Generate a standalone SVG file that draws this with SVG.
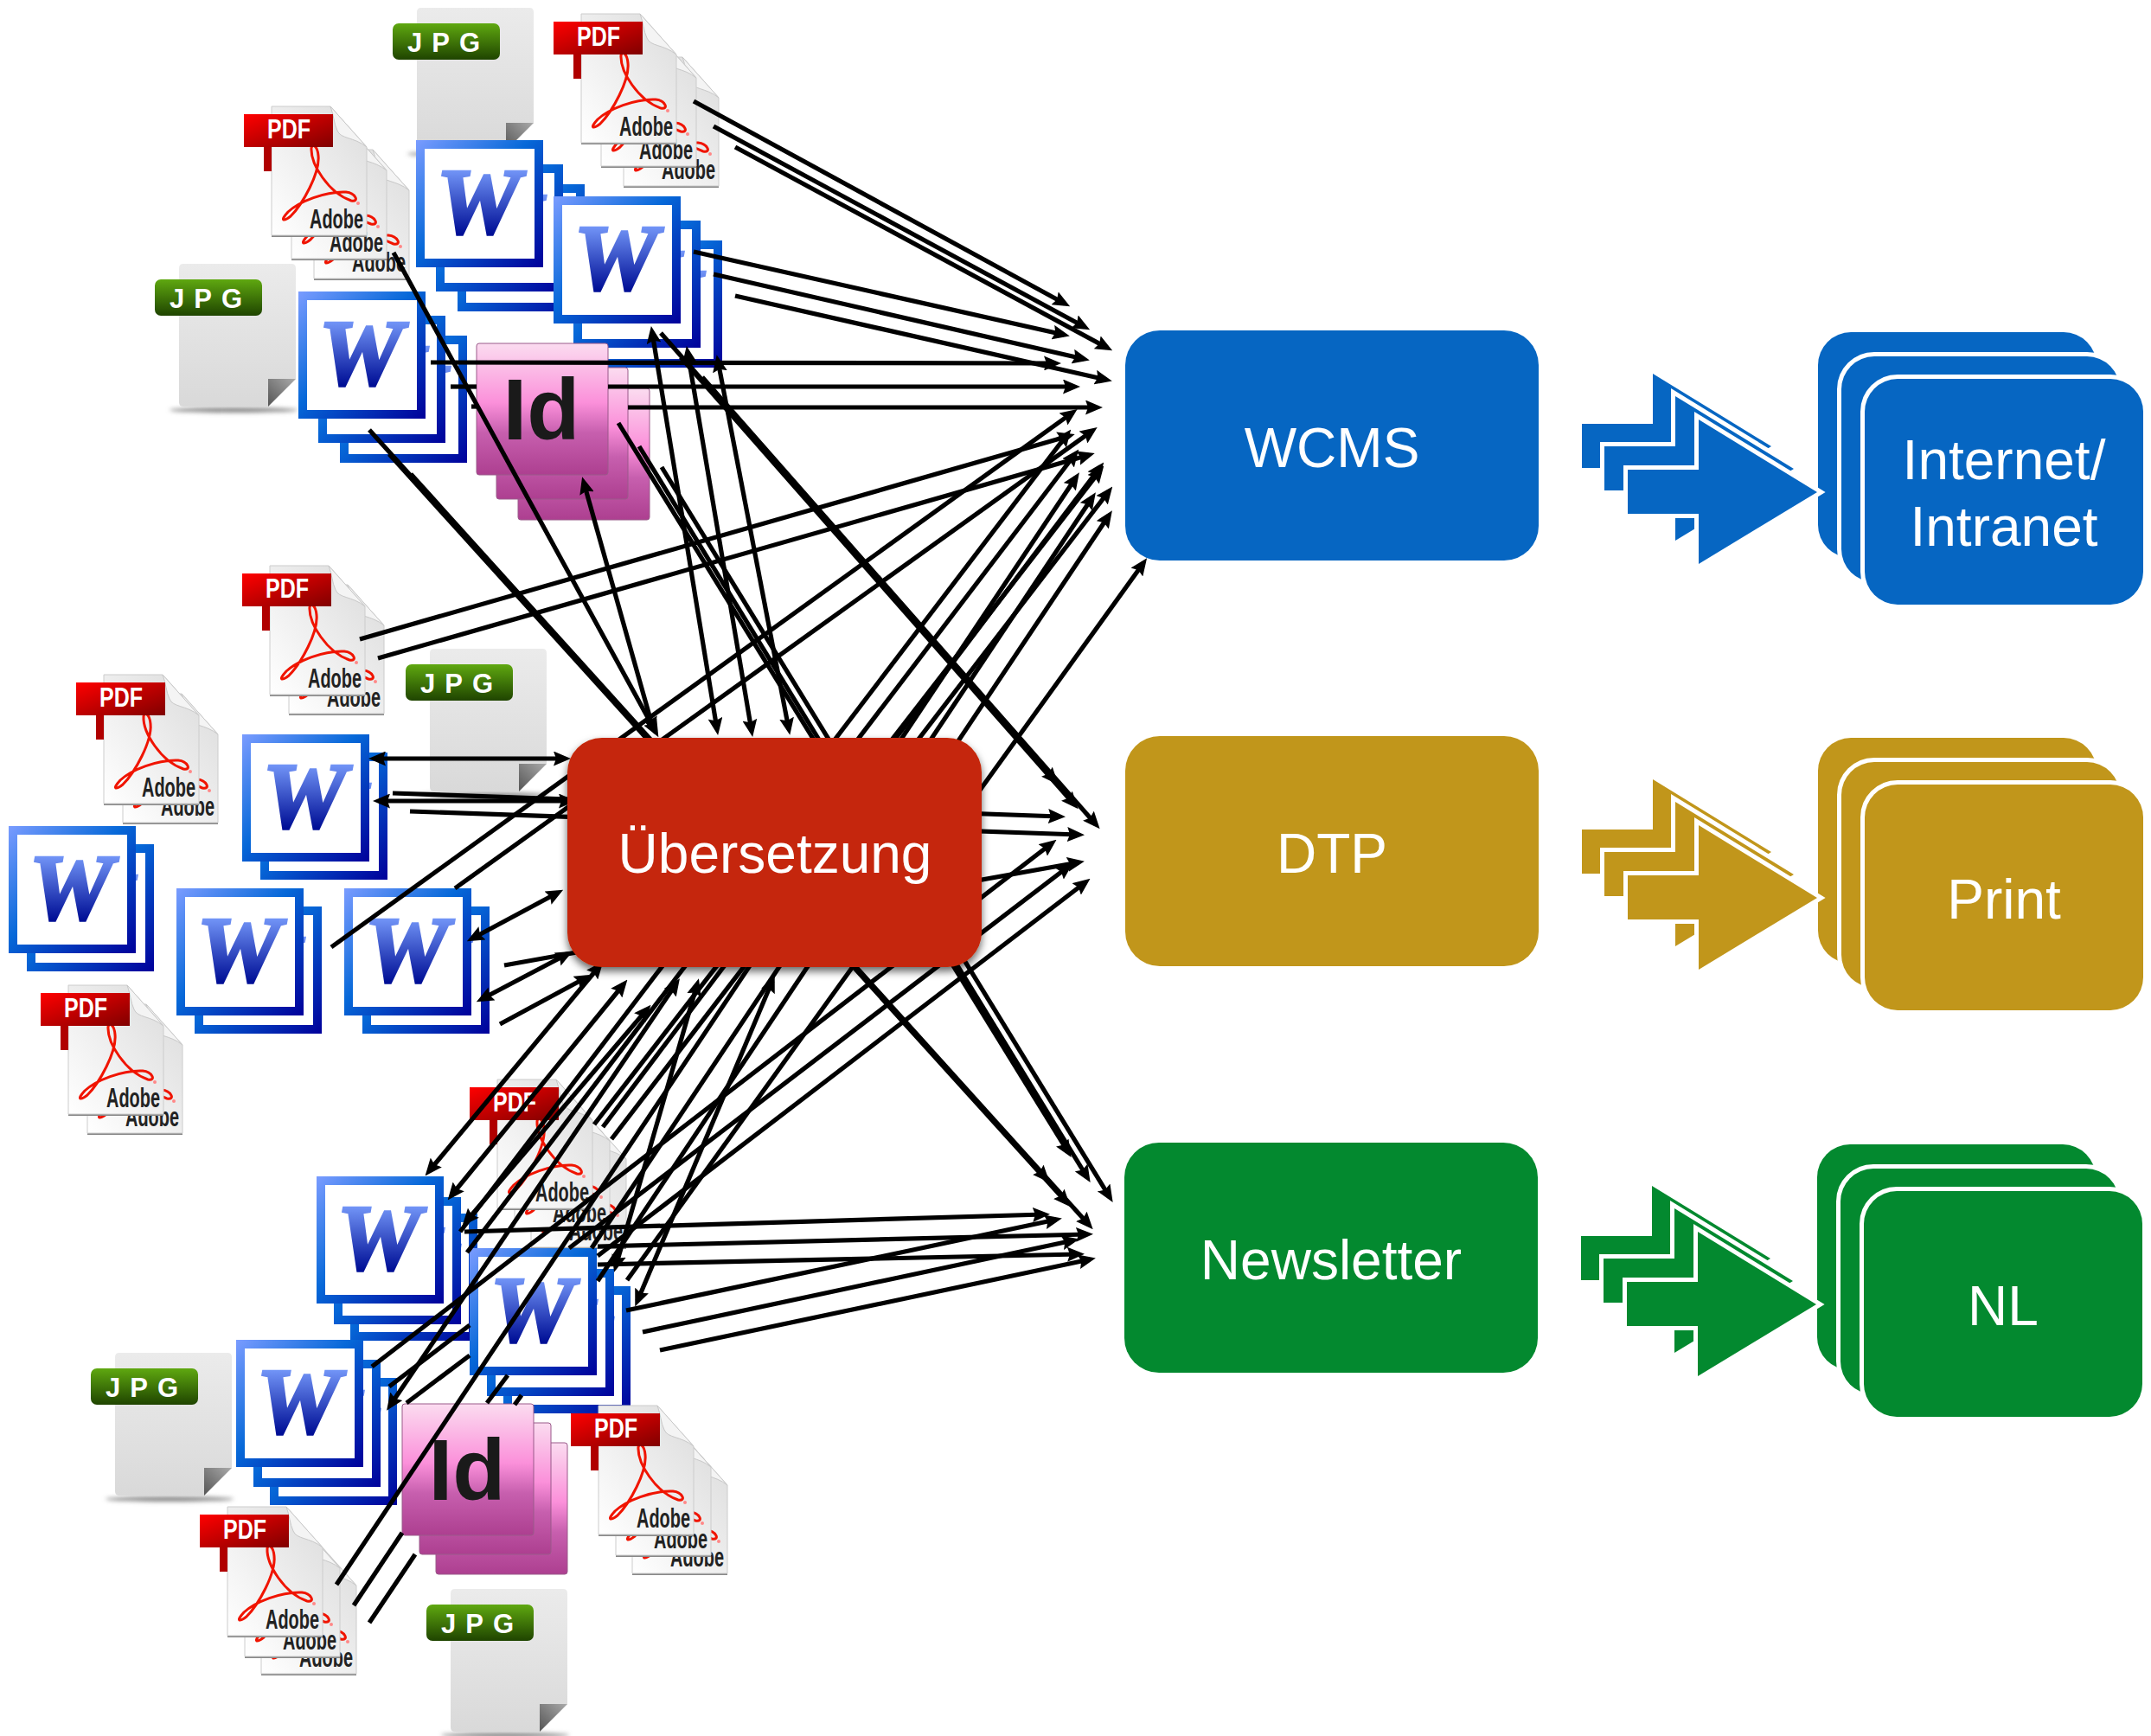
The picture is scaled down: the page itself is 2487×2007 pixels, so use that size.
<svg xmlns="http://www.w3.org/2000/svg" width="2487" height="2007" viewBox="0 0 2487 2007">
<style>
.lbl{font-family:"Liberation Sans",Arial,sans-serif;font-size:64px;fill:#fff;text-anchor:middle}
.c{stroke:#000;stroke-width:5.2;fill:none;marker-end:url(#ah)}
.d{stroke:#000;stroke-width:5.2;fill:none;marker-end:url(#ah);marker-start:url(#ah)}
.s{stroke:#000;stroke-width:5.2;fill:none}
.tag{font-family:"Liberation Sans",Arial,sans-serif;font-weight:700;fill:#fff}
</style>
<defs>
<marker id="ah" markerUnits="userSpaceOnUse" markerWidth="20" markerHeight="17" viewBox="0 0 20 17" refX="13" refY="8.500" orient="auto-start-reverse"><path d="M0 0L20 8.500L0 17L3 8.500Z" fill="#000"/></marker>
<linearGradient id="wf" x1="0" y1="0" x2="1" y2="1"><stop offset="0" stop-color="#7a9cff"/><stop offset=".45" stop-color="#0668d8"/><stop offset="1" stop-color="#00009a"/></linearGradient>
<linearGradient id="wt" gradientUnits="userSpaceOnUse" x1="0" y1="34" x2="0" y2="108"><stop offset="0" stop-color="#7396f8"/><stop offset="1" stop-color="#000f96"/></linearGradient>
<linearGradient id="pg" x1="0" y1="1" x2="1" y2="0"><stop offset="0" stop-color="#fff"/><stop offset="1" stop-color="#dcdcdc"/></linearGradient>
<linearGradient id="jp" x1="0" y1="0" x2="0" y2="1"><stop offset="0" stop-color="#ebebeb"/><stop offset="1" stop-color="#d9d9d9"/></linearGradient>
<linearGradient id="fo" x1="0" y1="1" x2="1" y2="0"><stop offset="0" stop-color="#555"/><stop offset="1" stop-color="#aaa"/></linearGradient>
<linearGradient id="jt" x1="0" y1="0" x2="0" y2="1"><stop offset="0" stop-color="#5fa810"/><stop offset="1" stop-color="#1f4400"/></linearGradient>
<linearGradient id="pt" x1="0" y1="0" x2="1" y2="1"><stop offset="0" stop-color="#ff0000"/><stop offset="1" stop-color="#800000"/></linearGradient>
<linearGradient id="id" x1="0" y1="0" x2="0" y2="1"><stop offset="0" stop-color="#fbdcf0"/><stop offset=".45" stop-color="#fb90da"/><stop offset=".68" stop-color="#c75fae"/><stop offset="1" stop-color="#ad3f90"/></linearGradient>
<filter id="sh" x="-5%" y="-5%" width="110%" height="115%"><feDropShadow dx="0" dy="5" stdDeviation="5" flood-color="#000" flood-opacity=".6"/></filter>
<filter id="bl" x="-20%" y="-200%" width="140%" height="500%"><feGaussianBlur stdDeviation="2.500"/></filter>
<g id="wsheet"><rect width="147" height="147" fill="url(#wf)"/><rect x="10" y="10" width="127" height="127" fill="#fff"/><text x="72" y="107" text-anchor="middle" font-family="'Liberation Serif',serif" font-weight="700" font-style="italic" font-size="109" textLength="97" lengthAdjust="spacingAndGlyphs" fill="url(#wt)" stroke="url(#wt)" stroke-width="3.500">W</text></g>
<g id="pdfpage"><rect x="0" y="149" width="110" height="2" fill="#888"/><path d="M0 0H68L110 47V149H0Z" fill="url(#pg)" stroke="#ccc" stroke-width="1"/><path d="M68 0L110 47C95 35 80 38 76 28C72 20 72 10 68 0Z" fill="#f4f4f4" stroke="#c8c8c8" stroke-width="1"/><path d="M46 48C45 67 66 100 92 109C102 111 97 100 86 99C62 98 32 110 19 122C9 133 14 133 22 127C36 113 56 77 54 57C53 45 47 43 46 48Z" fill="none" stroke="#f01400" stroke-width="3"/><circle cx="100" cy="112" r="2" fill="#f88"/><text x="44" y="141" font-family="'Liberation Sans',Arial,sans-serif" font-weight="700" font-size="31" textLength="62" lengthAdjust="spacingAndGlyphs" fill="#222">Adobe</text></g>
<g id="pdftag"><rect x="-9" y="40" width="9" height="35" fill="#b00000"/><rect x="-32" y="9" width="103" height="38" fill="url(#pt)"/><text x="-5" y="37" font-size="31" class="tag" textLength="50" lengthAdjust="spacingAndGlyphs">PDF</text></g>
<g id="jpg"><ellipse cx="63" cy="169" rx="74" ry="3" fill="#888" filter="url(#bl)"/><path d="M5 0H130Q135 0 135 5V133L103 165H5Q0 165 0 160V5Q0 0 5 0Z" fill="url(#jp)"/><path d="M103 133H135L103 165Z" fill="url(#fo)"/><rect x="-28" y="18" width="124" height="42" rx="7" fill="url(#jt)"/><text x="-11" y="50.500" font-size="31" class="tag" letter-spacing="11">JPG</text></g>
<rect id="idsheet" width="152" height="152" rx="3" fill="url(#id)" stroke="#9a5a8a" stroke-width="1"/>
<polygon id="blk" points="1882,543 1964,543 1964,485 2101,569 1964,652 1964,594 1882,594" stroke="#fff" stroke-width="10" paint-order="stroke"/>
<g id="arrows"><use href="#blk" x="-53" y="-53"/><use href="#blk" x="-27" y="-27"/><use href="#blk"/></g>
<g id="stack" stroke="#fff" stroke-width="10" paint-order="stroke"><rect x="2102" y="384" width="322" height="261" rx="38" paint-order="stroke"/><rect x="2129" y="412" width="322" height="261" rx="38" paint-order="stroke"/><rect x="2156" y="438" width="322" height="261" rx="38" paint-order="stroke"/></g>
</defs>
<rect width="2487" height="2007" fill="#fff"/>

<g id="jpg-a"><use href="#jpg" x="482" y="9"/></g>
<g id="pdf-b"><use href="#pdfpage" x="721" y="66"/><use href="#pdfpage" x="695" y="43"/><use href="#pdfpage" x="672" y="16"/><use href="#pdftag" x="672" y="16"/></g>
<g id="word-b"><use href="#wsheet" x="529" y="213"/><use href="#wsheet" x="504" y="190"/><use href="#wsheet" x="481" y="162"/></g>
<g id="word-c"><use href="#wsheet" x="688" y="278"/><use href="#wsheet" x="663" y="255"/><use href="#wsheet" x="640" y="227"/></g>
<g id="pdf-a"><use href="#pdfpage" x="363" y="173"/><use href="#pdfpage" x="337" y="150"/><use href="#pdfpage" x="314" y="123"/><use href="#pdftag" x="314" y="123"/></g>
<g id="jpg-b"><use href="#jpg" x="207" y="305"/></g>
<g id="word-a"><use href="#wsheet" x="393" y="388"/><use href="#wsheet" x="368" y="365"/><use href="#wsheet" x="345" y="337"/></g>
<g id="id-a"><use href="#idsheet" x="599" y="449"/><use href="#idsheet" x="574" y="425"/><use href="#idsheet" x="551" y="397"/><text x="626" y="508" text-anchor="middle" font-family="'Liberation Sans',Arial,sans-serif" font-weight="700" font-size="100" fill="#1a1a1a">Id</text></g>
<g id="jpg-c"><use href="#jpg" x="497" y="750"/></g>
<g id="pdf-c"><use href="#pdfpage" x="334" y="676"/><use href="#pdfpage" x="312" y="654"/><use href="#pdftag" x="312" y="654"/></g>
<g id="pdf-d"><use href="#pdfpage" x="142" y="802"/><use href="#pdfpage" x="120" y="780"/><use href="#pdftag" x="120" y="780"/></g>
<g id="pdf-e"><use href="#pdfpage" x="101" y="1161"/><use href="#pdfpage" x="79" y="1139"/><use href="#pdftag" x="79" y="1139"/></g>
<g id="word-d"><use href="#wsheet" x="301" y="870"/><use href="#wsheet" x="280" y="849"/></g>
<g id="word-e"><use href="#wsheet" x="31" y="976"/><use href="#wsheet" x="10" y="955"/></g>
<g id="word-f"><use href="#wsheet" x="225" y="1048"/><use href="#wsheet" x="204" y="1027"/></g>
<g id="word-g"><use href="#wsheet" x="419" y="1048"/><use href="#wsheet" x="398" y="1027"/></g>
<g id="pdf-f"><use href="#pdfpage" x="614" y="1293"/><use href="#pdfpage" x="595" y="1272"/><use href="#pdfpage" x="575" y="1248"/><use href="#pdftag" x="575" y="1248"/></g>
<g id="word-h"><use href="#wsheet" x="405" y="1403"/><use href="#wsheet" x="386" y="1384"/><use href="#wsheet" x="366" y="1360"/></g>
<g id="word-i"><use href="#wsheet" x="582" y="1487"/><use href="#wsheet" x="563" y="1467"/><use href="#wsheet" x="543" y="1443"/></g>
<g id="jpg-d"><use href="#jpg" x="133" y="1564"/></g>
<g id="word-j"><use href="#wsheet" x="312" y="1593"/><use href="#wsheet" x="293" y="1572"/><use href="#wsheet" x="273" y="1549"/></g>
<g id="pdf-g"><use href="#pdfpage" x="731" y="1670"/><use href="#pdfpage" x="712" y="1649"/><use href="#pdfpage" x="692" y="1625"/><use href="#pdftag" x="692" y="1625"/></g>
<g id="id-b"><use href="#idsheet" x="504" y="1668"/><use href="#idsheet" x="485" y="1645"/><use href="#idsheet" x="465" y="1623"/><text x="540" y="1734" text-anchor="middle" font-family="'Liberation Sans',Arial,sans-serif" font-weight="700" font-size="100" fill="#1a1a1a">Id</text></g>
<g id="pdf-h"><use href="#pdfpage" x="302" y="1786"/><use href="#pdfpage" x="283" y="1766"/><use href="#pdfpage" x="263" y="1742"/><use href="#pdftag" x="263" y="1742"/></g>
<g id="jpg-e"><use href="#jpg" x="521" y="1837"/></g>

<g id="connectors">
<line class="c" x1="802" y1="117" x2="1231" y2="351"/><line class="c" x1="825" y1="146" x2="1254" y2="378"/><line class="c" x1="850" y1="170" x2="1280" y2="402"/>
<line class="c" x1="802" y1="291" x2="1230" y2="387"/><line class="c" x1="825" y1="317" x2="1253" y2="415"/><line class="c" x1="850" y1="342" x2="1279" y2="439"/>
<line class="c" x1="498" y1="419" x2="1220" y2="420"/>
<line class="s" x1="521" y1="447" x2="551" y2="447"/><line class="c" x1="703" y1="447" x2="1242" y2="447"/>
<line class="s" x1="545" y1="470" x2="551" y2="470"/><line class="c" x1="726" y1="471" x2="1268" y2="471"/>
<line class="c" x1="715" y1="489" x2="1235" y2="1332"/><line class="c" x1="739" y1="516" x2="1257" y2="1361"/><line class="c" x1="765" y1="540" x2="1283" y2="1384"/>
<line class="c" x1="764" y1="385" x2="1219" y2="902"/><line class="c" x1="787" y1="413" x2="1242" y2="930"/><line class="c" x1="812" y1="436" x2="1267" y2="953"/>
<line class="c" x1="427" y1="497" x2="1209" y2="1362"/><line class="c" x1="450" y1="525" x2="1233" y2="1390"/><line class="c" x1="475" y1="548" x2="1259" y2="1416"/>
<line class="c" x1="455" y1="292" x2="758" y2="846"/>
<line class="d" x1="675" y1="558" x2="755" y2="842"/>
<line class="d" x1="754" y1="384" x2="829" y2="843"/><line class="d" x1="795" y1="407" x2="869" y2="845"/><line class="d" x1="830" y1="417" x2="912" y2="843"/>
<line class="c" x1="416" y1="739" x2="1236" y2="504"/><line class="c" x1="437" y1="761" x2="1259" y2="526"/>
<line class="d" x1="433" y1="877" x2="653" y2="877"/><line class="d" x1="438" y1="926" x2="659" y2="926"/>
<line class="c" x1="454" y1="917" x2="1225" y2="944"/><line class="c" x1="474" y1="938" x2="1247" y2="965"/>
<line class="c" x1="383" y1="1095" x2="1240" y2="477"/><line class="c" x1="526" y1="1027" x2="1263" y2="498"/>
<line class="d" x1="546" y1="1085" x2="645" y2="1032"/><line class="d" x1="557" y1="1155" x2="656" y2="1103"/>
<line class="c" x1="583" y1="1116" x2="1247" y2="997"/><line class="c" x1="578" y1="1184" x2="678" y2="1130"/>
<line class="d" x1="496" y1="1354" x2="693" y2="1117"/><line class="d" x1="522" y1="1382" x2="721" y2="1138"/><line class="d" x1="539" y1="1412" x2="748" y2="1167"/>
<line class="d" x1="451" y1="1625" x2="782" y2="1137"/>
<line class="d" x1="712" y1="1464" x2="806" y2="1138"/><line class="d" x1="737" y1="1504" x2="893" y2="1134"/>
<line class="c" x1="725" y1="1480" x2="1322" y2="651"/>
<line class="c" x1="724" y1="1515" x2="1221" y2="1410"/><line class="c" x1="743" y1="1540" x2="1241" y2="1434"/><line class="c" x1="763" y1="1561" x2="1260" y2="1456"/>
<line class="c" x1="537" y1="1424" x2="1207" y2="1404"/><line class="c" x1="691" y1="1441" x2="1257" y2="1427"/><line class="c" x1="691" y1="1462" x2="1247" y2="1450"/>
<line class="c" x1="430" y1="1580" x2="1216" y2="975"/>
<line class="s" x1="450" y1="1603" x2="543" y2="1532"/><line class="c" x1="658" y1="1443" x2="1235" y2="1002"/>
<line class="s" x1="470" y1="1622" x2="543" y2="1567"/><line class="c" x1="691" y1="1452" x2="1255" y2="1020"/>
<line class="c" x1="532" y1="1424" x2="1234" y2="502"/><line class="c" x1="540" y1="1448" x2="1243" y2="525"/>
<line class="c" x1="687" y1="1300" x2="1272" y2="544"/><line class="c" x1="697" y1="1303" x2="1272" y2="540"/><line class="c" x1="707" y1="1317" x2="1282" y2="568"/>
<line class="c" x1="389" y1="1832" x2="1244" y2="552"/>
<line class="s" x1="409" y1="1856" x2="465" y2="1772"/><line class="s" x1="563" y1="1622" x2="587" y2="1590"/><line class="c" x1="684" y1="1443" x2="1263" y2="575"/>
<line class="s" x1="427" y1="1876" x2="480" y2="1797"/><line class="s" x1="595" y1="1624" x2="603" y2="1613"/><line class="c" x1="691" y1="1481" x2="1282" y2="596"/>
</g>

<g id="uebersetzung"><rect x="656" y="853" width="479" height="265" rx="40" fill="#c52807" filter="url(#sh)"/><text class="lbl" x="896" y="1009">Übersetzung</text></g>
<g id="wcms"><rect x="1301" y="382" width="478" height="266" rx="40" fill="#0666c2"/><text class="lbl" x="1540" y="540">WCMS</text></g>
<g id="dtp"><rect x="1301" y="851" width="478" height="266" rx="40" fill="#c1961b"/><text class="lbl" x="1540" y="1009">DTP</text></g>
<g id="newsletter"><rect x="1300" y="1321" width="478" height="266" rx="40" fill="#03892f"/><text class="lbl" x="1539" y="1479">Newsletter</text></g>

<g id="internet" fill="#0666c2"><use href="#stack"/><use href="#arrows"/><text class="lbl" x="2317" y="554">Internet/</text><text class="lbl" x="2317" y="631">Intranet</text></g>
<g id="print" fill="#c1961b"><use href="#stack" y="469"/><use href="#arrows" y="469"/><text class="lbl" x="2317" y="1062">Print</text></g>
<g id="nl" fill="#03892f"><use href="#stack" x="-1" y="939"/><use href="#arrows" x="-1" y="939"/><text class="lbl" x="2316" y="1532">NL</text></g>
</svg>
